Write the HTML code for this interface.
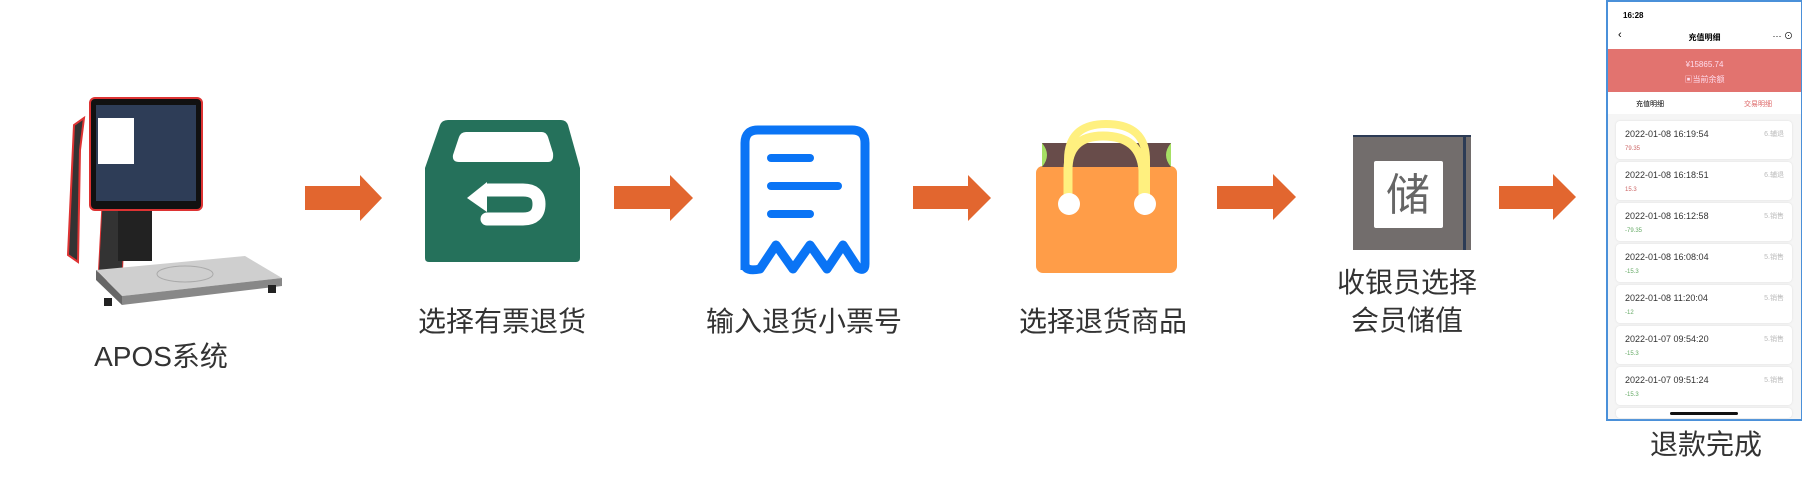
<!DOCTYPE html>
<html><head><meta charset="utf-8"><style>
body{margin:0;width:1802px;height:478px;background:#fff;position:relative;overflow:hidden;font-family:"Liberation Sans","Noto Sans CJK SC",sans-serif;}
.lbl{position:absolute;font-size:28px;color:#333;text-align:center;width:300px;line-height:38px;white-space:nowrap}
svg{position:absolute;left:0;top:0}
.card{position:absolute;left:1616px;width:176px;height:38px;background:#fff;border-radius:4px;box-shadow:0 0 2px #ddd}
.card .t{position:absolute;left:9px;top:8px;font-size:9px;color:#333}
.card .v{position:absolute;left:9px;top:25px;font-size:6px}
.card .s{position:absolute;right:8px;top:8px;font-size:7px;color:#bbb}
</style></head><body>
<svg width="1802" height="478">
 <!-- POS -->
 <path d="M84 118 L74 125 L68 255 L78 262 L80 150 Z" fill="#333" stroke="#d33" stroke-width="2"/>
 <path d="M102 205 L98 280 L122 282 L124 235 L145 237 L150 205 Z" fill="#333" stroke="#d33" stroke-width="1"/>
 <rect x="118" y="206" width="34" height="55" fill="#222"/>
 <rect x="90" y="98" width="112" height="112" rx="5" fill="#111" stroke="#d33" stroke-width="2"/>
 <rect x="96" y="105" width="100" height="96" fill="#2e3d57"/>
 <rect x="98" y="118" width="36" height="46" fill="#fff"/>
 <path d="M96 270 L245 256 L282 278 L122 296 Z" fill="#cfcfcf"/>
 <path d="M122 296 L282 278 L282 286 L122 305 Z" fill="#888"/>
 <path d="M96 270 L122 296 L122 305 L96 280 Z" fill="#666"/>
 <ellipse cx="185" cy="274" rx="28" ry="8" fill="none" stroke="#aaa"/>
 <rect x="104" y="298" width="8" height="8" fill="#222"/><rect x="268" y="285" width="8" height="8" fill="#222"/>
 <!-- arrows -->
 <g fill="#e2662f">
  <path d="M305 186 H360 V175 L382 198 L360 221 V210 H305 Z"/>
  <path d="M614 186 H670 V175 L693 198 L670 221 V209 H614 Z"/>
  <path d="M913 186 H968 V175 L991 198 L968 221 V209 H913 Z"/>
  <path d="M1217 186 H1273 V174 L1296 197 L1273 220 V209 H1217 Z"/>
  <path d="M1499 186 H1553 V174 L1576 197 L1553 220 V209 H1499 Z"/>
 </g>
 <!-- box -->
 <path d="M448 120 H561 Q566 120 568 125 L580 168 V258 Q580 262 576 262 H429 Q425 262 425 258 V168 L440 125 Q442 120 448 120 Z" fill="#25715b"/>
 <path d="M466 132 H542 Q546 132 548 137 L553 153 Q554 162 548 162 H459 Q452 162 453 155 L459 137 Q461 132 466 132 Z" fill="#fff"/>
 <path d="M487 219 H523 Q539 219 539 204 Q539 190 523 190 H488" fill="none" stroke="#fff" stroke-width="13" stroke-linecap="round"/>
 <path d="M467 198 L487 182 L487 212 Z" fill="#fff"/>
 <!-- receipt -->
 <path d="M745 270 V143 Q745 130 758 130 H852 Q865 130 865 143 V264 Q865 272 858 268 L843 245 L827 269 L810 245 L793 269 L776 245 L760 269 Q745 272 745 264" fill="none" stroke="#0a74f5" stroke-width="9" stroke-linejoin="round"/>
 <g stroke="#0a74f5" stroke-width="8" stroke-linecap="round"><line x1="771" y1="158" x2="810" y2="158"/><line x1="771" y1="186" x2="838" y2="186"/><line x1="771" y1="214" x2="810" y2="214"/></g>
 <!-- bag -->
 <rect x="1036" y="166" width="141" height="107" rx="7" fill="#ff9d48"/>
 <rect x="1042" y="143" width="129" height="24" fill="#684c4a"/>
 <path d="M1042 143 Q1052 155 1042 167 Z M1171 143 Q1161 155 1171 167 Z" fill="#a6e064"/>
 <path d="M1068 200 V160 Q1068 124 1106 124 Q1146 124 1146 160 V200" fill="none" stroke="#fff07f" stroke-width="8"/>
 <path d="M1068 201 V170 Q1068 136 1103 136 Q1140 136 1143 170 V201" fill="none" stroke="#fff07f" stroke-width="9"/>
 <circle cx="1069" cy="204" r="11" fill="#fff"/><circle cx="1145" cy="204" r="11" fill="#fff"/>
 <!-- 储 -->
 <rect x="1353" y="135" width="118" height="115" fill="#726d6c"/>
 <rect x="1353" y="135" width="118" height="2" fill="#2c3b55"/>
 <rect x="1463" y="135" width="3" height="115" fill="#2c3b55"/>
 <rect x="1374" y="161" width="69" height="67" rx="2" fill="#fff"/>
 <text x="1408" y="210" font-size="44" text-anchor="middle" fill="#666" font-family="Noto Sans CJK SC,sans-serif">储</text>
</svg>
<!-- phone -->
<div style="position:absolute;left:1606px;top:0;width:193px;height:417px;border:2px solid #4a90d9;background:#f5f5f5;overflow:hidden;font-family:'Liberation Sans','Noto Sans CJK SC',sans-serif">
 <div style="height:47px;background:#fff;position:relative">
  <div style="position:absolute;left:15px;top:9px;font-size:8px;font-weight:bold">16:28</div>
  <div style="position:absolute;left:10px;top:27px;font-size:11px">‹</div>
  <div style="position:absolute;left:0;width:193px;top:30px;text-align:center;font-size:8px;font-weight:bold">充值明细</div>
  <div style="position:absolute;right:8px;top:27px;font-size:9px">··· ⊙</div>
 </div>
 <div style="height:43px;background:#e2736f;color:#fde;text-align:center;font-size:8px;line-height:15px;padding-top:8px;box-sizing:border-box">¥15865.74<br>▣当前余额</div>
 <div style="height:22px;background:#fff;position:relative;font-size:7px">
  <span style="position:absolute;left:28px;top:7px">充值明细</span><span style="position:absolute;left:136px;top:7px;color:#d66">交易明细</span></div>
</div>
<div class="card" style="top:121px"><div class="t">2022-01-08 16:19:54</div><div class="v" style="color:#c66">79.35</div><div class="s">6.辅退</div></div>
<div class="card" style="top:162px"><div class="t">2022-01-08 16:18:51</div><div class="v" style="color:#c66">15.3</div><div class="s">6.辅退</div></div>
<div class="card" style="top:203px"><div class="t">2022-01-08 16:12:58</div><div class="v" style="color:#6a6">-79.35</div><div class="s">5.销售</div></div>
<div class="card" style="top:244px"><div class="t">2022-01-08 16:08:04</div><div class="v" style="color:#6a6">-15.3</div><div class="s">5.销售</div></div>
<div class="card" style="top:285px"><div class="t">2022-01-08 11:20:04</div><div class="v" style="color:#6a6">-12</div><div class="s">5.销售</div></div>
<div class="card" style="top:326px"><div class="t">2022-01-07 09:54:20</div><div class="v" style="color:#6a6">-15.3</div><div class="s">5.销售</div></div>
<div class="card" style="top:367px"><div class="t">2022-01-07 09:51:24</div><div class="v" style="color:#6a6">-15.3</div><div class="s">5.销售</div></div>
<div class="card" style="top:408px;height:10px"></div>
<div style="position:absolute;left:1670px;top:412px;width:68px;height:3px;background:#111;border-radius:2px"></div>
<div class="lbl" style="left:11px;top:338px">APOS系统</div>
<div class="lbl" style="left:352px;top:303px">选择有票退货</div>
<div class="lbl" style="left:654px;top:303px">输入退货小票号</div>
<div class="lbl" style="left:953px;top:303px">选择退货商品</div>
<div class="lbl" style="left:1257px;top:264px">收银员选择<br>会员储值</div>
<div class="lbl" style="left:1556px;top:426px">退款完成</div>
</body></html>
